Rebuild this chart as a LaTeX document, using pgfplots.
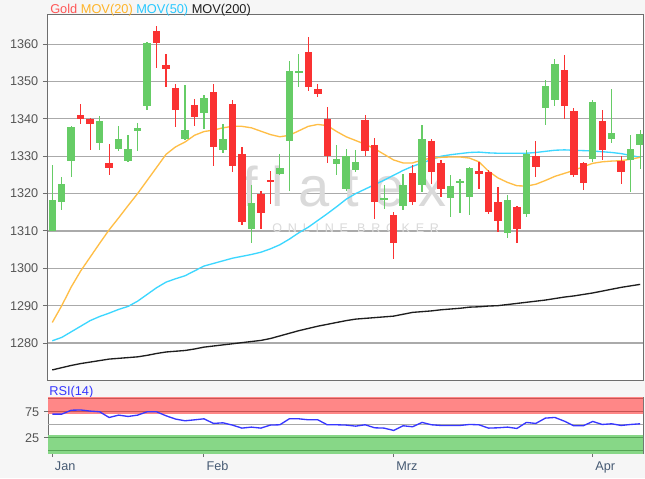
\documentclass[border=0pt]{standalone}
\usepackage{fontspec}
\setmainfont{Liberation Sans}
\usepackage{pgfplots}
\pgfplotsset{compat=1.18}
\usepackage{pgfplotstable}

\definecolor{bg}{RGB}{246,246,246}
\definecolor{candleup}{RGB}{102,204,102}
\definecolor{candledn}{RGB}{250,50,50}
\definecolor{mova}{RGB}{255,190,70}
\definecolor{movb}{RGB}{60,215,255}
\definecolor{movc}{RGB}{30,30,30}
\definecolor{legred}{RGB}{255,85,85}
\definecolor{legorange}{RGB}{255,180,40}
\definecolor{legcyan}{RGB}{40,200,255}
\definecolor{gridgray}{RGB}{170,170,170}
\definecolor{framegray}{RGB}{110,110,110}
\definecolor{ticklab}{RGB}{85,85,85}
\definecolor{xlab}{RGB}{70,90,115}
\definecolor{rsiblue}{RGB}{55,55,255}
\definecolor{rsired}{RGB}{255,135,135}
\definecolor{rsiredline}{RGB}{200,85,85}
\definecolor{rsigreen}{RGB}{135,215,135}
\definecolor{rsigreenline}{RGB}{85,165,85}
\definecolor{wm}{RGB}{218,218,218}

\pgfplotstableread{
i o h l c
0 1310 1327.6 1310 1318.2
1 1317.7 1324.4 1315.5 1322.5
2 1328.7 1338 1324.4 1337.8
5 1333.5 1340.7 1331.6 1339.4
7 1331.9 1338 1331.3 1334.6
8 1328.7 1335.6 1328.5 1332
9 1336.7 1339 1331.3 1337.5
10 1343.4 1360.5 1342.5 1360.4
14 1334.7 1349 1334.4 1337.1
16 1341.6 1346.3 1337.4 1345.7
18 1331.6 1338.7 1330.9 1334.5
21 1310.6 1322.2 1306.7 1317.6
24 1325.3 1330.7 1325.1 1326.8
25 1334.1 1355.5 1320.7 1352.9
26 1352.3 1357.5 1348.6 1352.9
30 1328 1332.9 1325.1 1329.3
31 1321.3 1332 1320.7 1330
32 1326.4 1331.6 1325.8 1328.5
35 1318.4 1322.4 1316 1318.8
37 1316.8 1325.3 1315.5 1322.4
39 1322.4 1338.3 1320.4 1334.7
42 1318.8 1325.1 1313.7 1322.1
43 1322.8 1324 1314.8 1323.4
44 1319.2 1327.1 1314.2 1326.8
48 1309.5 1319.7 1308.2 1318.2
50 1314.6 1331.6 1313.7 1330.7
52 1342.8 1350.3 1338.3 1348.7
53 1345 1356 1343.4 1354.8
57 1329.3 1345 1328.5 1344.5
59 1334.5 1348.1 1333.6 1336.2
61 1328.9 1335.6 1320.4 1332
62 1332.9 1337.1 1326.7 1335.9
}\upc

\pgfplotstableread{
i o h l c
3 1341.1 1343.9 1338.6 1340.1
4 1340 1340.3 1331.8 1338.6
6 1328.2 1333.4 1325.1 1326.8
11 1363.4 1364.8 1353.5 1360.4
12 1354.5 1357.5 1348.6 1353.3
13 1348.3 1349.3 1337.7 1342.5
15 1343.8 1345.4 1338.2 1340.5
17 1347.1 1349.3 1327.4 1332.5
19 1343.9 1345 1325.8 1327.4
20 1330.7 1332.5 1311.7 1312.4
22 1320 1320.6 1310.6 1314.9
23 1323.7 1326 1317.3 1323.2
27 1357.8 1362 1347.5 1348.6
28 1348.1 1349.3 1345.9 1346.6
29 1339.9 1343.2 1328.2 1330
33 1339.8 1341 1330 1331.4
34 1332.9 1335 1313.3 1317.7
36 1314.2 1315 1302.5 1306.7
38 1325.6 1327.6 1317 1317.7
40 1334 1334.5 1322.6 1325.8
41 1328.2 1329.1 1319.1 1321.3
45 1326 1328.5 1321.3 1325.3
46 1325.9 1326.2 1314.5 1315
47 1317.7 1321.8 1309.7 1312.6
49 1316.4 1316.6 1306.8 1310.4
51 1330 1334 1324.4 1327.1
54 1353.2 1357 1339.9 1343.4
55 1342 1342.8 1324.5 1325.1
56 1328.2 1328.5 1321 1322.9
58 1339.4 1342.3 1329.1 1331.6
60 1328.6 1330.2 1322.6 1325.8
}\dnc

\pgfplotstableread{
i m20 m50 m200 rsi
0 1285.5 1280.6 1272.8 70.5
1 1290 1281.5 1273.4 70.5
2 1295 1283 1274 78
3 1299.3 1284.5 1274.5 78.5
4 1303 1286 1274.9 76.3
5 1306.7 1287.1 1275.3 75
6 1310.3 1288 1275.7 64
7 1313.5 1289 1275.9 68.6
8 1316.8 1289.8 1276.1 66
9 1320 1291.2 1276.3 68.6
10 1323.5 1293 1276.7 75
11 1327 1294.8 1277.2 75
12 1330.5 1296.3 1277.6 67.3
13 1332.5 1297.2 1277.8 61
14 1333.8 1298 1278 57.7
15 1335.6 1299.3 1278.4 59.5
16 1336.6 1300.6 1278.9 61.5
17 1337 1301.3 1279.2 52.6
18 1337.6 1302 1279.5 53.8
19 1338 1302.7 1279.8 49.4
20 1338 1303.2 1280.1 43.6
21 1337.6 1303.7 1280.4 45.5
22 1336.7 1304.3 1280.7 43.6
23 1335.8 1305.2 1281.2 49.4
24 1335.2 1306.3 1281.9 50
25 1335.6 1307.8 1282.6 61.5
26 1336.8 1309.5 1283.3 61.5
27 1338 1311 1283.9 59.6
28 1338.5 1312.8 1284.5 59.6
29 1338.2 1314.6 1285 50
30 1336.6 1316.5 1285.5 50
31 1335.2 1318.5 1286 49.4
32 1334.2 1320 1286.4 47.4
33 1333.2 1321.2 1286.6 50
34 1332 1322.4 1286.8 44.2
35 1330.5 1323.6 1287 43.6
36 1329 1324.9 1287.2 39.1
37 1328.2 1326.2 1287.7 48.1
38 1328.2 1327.3 1288.2 46.2
39 1329 1328.2 1288.4 54.5
40 1329.5 1329.1 1288.6 50
41 1329.7 1330 1288.9 48.7
42 1329.8 1330.4 1289.1 48.7
43 1329.8 1330.7 1289.3 48.7
44 1329.5 1331 1289.6 50.6
45 1328.5 1331.1 1289.7 50
46 1326 1330.9 1289.9 43.6
47 1324.2 1330.8 1290 44.2
48 1323 1330.8 1290.3 45.5
49 1322.1 1330.8 1290.6 42.9
50 1322 1330.8 1290.9 54.5
51 1322.5 1331 1291.2 52.6
52 1323.5 1331.3 1291.5 62.8
53 1324.6 1331.6 1291.9 64.1
54 1325.4 1331.7 1292.3 57
55 1326.2 1331.6 1292.6 48.1
56 1327.2 1331.5 1293 48.1
57 1328.1 1331.4 1293.4 56.4
58 1328.5 1331.2 1293.9 50.6
59 1328.7 1331 1294.4 51.9
60 1328.8 1330.7 1294.9 48.7
61 1329.2 1330.2 1295.3 50.6
62 1329.7 1329.7 1295.7 51.9
}\ind

\pgfplotsset{
  candle/.style n args={2}{draw=none, mark=none, forget plot,
    error bars/.cd, y dir=both, y explicit, error mark=none,
    error bar style={draw=#1, line width=#2, line cap=butt}},
}

\begin{document}
\begin{tikzpicture}
\path[use as bounding box, fill=bg] (0,0) rectangle (483.75pt,-358.5pt);

\begin{axis}[
  at={(36pt,-11.25pt)}, anchor=north west, scale only axis,
  width=446.25pt, height=273.75pt,
  xmin=-0.45, xmax=62.3, ymin=1270.1, ymax=1367.8,
  ytick={1280,1290,...,1360}, xtick=\empty,
  ytick pos=left, tick align=outside, major tick length=3.75pt,
  ymajorgrids, grid style={draw=gridgray, line width=0.9pt},
  axis line style={draw=framegray, line width=0.75pt},
  ytick style={draw=framegray, line width=0.75pt},
  axis background/.style={fill=white},
  /pgf/number format/1000 sep={},
  /pgf/number format/assume math mode=true,
  yticklabel style={color=ticklab, font=\fontsize{9.5pt}{11pt}\selectfont},
]
\node[anchor=base, text=wm, font=\fontsize{42pt}{44pt}\selectfont\addfontfeature{LetterSpace=25}] at (axis cs:30.8,1316.5) {flatex};
\node[anchor=base, text=wm, font=\fontsize{9.4pt}{10pt}\selectfont\addfontfeature{LetterSpace=46}] at (axis cs:32,1309.6) {ONLINE BROKER};

\addplot[movc, line width=1pt, mark=none] table[x=i, y=m200] {\ind};
\addplot[movb, line width=1pt, mark=none] table[x=i, y=m50] {\ind};
\addplot[mova, line width=1pt, mark=none] table[x=i, y=m20] {\ind};

\addplot[candle={candleup}{0.95pt}]
  table[x=i, y expr={(\thisrow{h}+\thisrow{l})/2}, y error expr={(\thisrow{h}-\thisrow{l})/2}] {\upc};
\addplot[candle={candleup}{5.6pt}]
  table[x=i, y expr={(\thisrow{o}+\thisrow{c})/2}, y error expr={max(abs(\thisrow{c}-\thisrow{o})/2,0.3)}] {\upc};
\addplot[candle={candledn}{0.95pt}]
  table[x=i, y expr={(\thisrow{h}+\thisrow{l})/2}, y error expr={(\thisrow{h}-\thisrow{l})/2}] {\dnc};
\addplot[candle={candledn}{5.6pt}]
  table[x=i, y expr={(\thisrow{o}+\thisrow{c})/2}, y error expr={max(abs(\thisrow{c}-\thisrow{o})/2,0.3)}] {\dnc};
\end{axis}

\node[anchor=base west, inner sep=0pt, font=\fontsize{9.6pt}{11pt}\selectfont] at (37.5pt,-9.98pt)
  {\textcolor{legred}{Gold} \textcolor{legorange}{MOV(20)} \textcolor{legcyan}{MOV(50)} \textcolor{movc}{MOV(200)}};

\node[anchor=base west, inner sep=0pt, text=rsiblue, font=\fontsize{9.6pt}{11pt}\selectfont] at (36.75pt,-296.6pt) {RSI(14)};

\begin{axis}[
  at={(36pt,-298.3pt)}, anchor=north west, scale only axis,
  width=446.25pt, height=41.5pt,
  xmin=-0.45, xmax=62.3, ymin=-4.4, ymax=102,
  ytick={25,75}, xtick={0,16,36,57}, xticklabels={Jan,Feb,Mrz,Apr},
  xtick pos=bottom, ytick pos=left, tick align=outside, major tick length=3pt,
  axis line style={draw=framegray, line width=0.75pt},
  tick style={draw=framegray, line width=0.75pt},
  axis background/.style={fill=white},
  /pgf/number format/assume math mode=true,
  yticklabel style={color=ticklab, font=\fontsize{9.5pt}{11pt}\selectfont},
  xticklabel style={color=xlab, anchor=north west, xshift=-1.5pt, font=\fontsize{9.5pt}{11pt}\selectfont},
]
\addplot[draw=none, fill=rsired] coordinates {(-1,70) (63,70) (63,110) (-1,110)} -- cycle;
\addplot[draw=none, fill=rsigreen] coordinates {(-1,-10) (63,-10) (63,30) (-1,30)} -- cycle;
\addplot[rsiredline, line width=0.9pt] coordinates {(-1,75) (63,75)};
\addplot[rsiredline, line width=0.9pt] coordinates {(-1,100) (63,100)};
\addplot[rsigreenline, line width=0.9pt] coordinates {(-1,25) (63,25)};
\addplot[rsigreenline, line width=0.9pt] coordinates {(-1,0) (63,0)};
\addplot[gridgray, line width=0.8pt] coordinates {(-1,50) (63,50)};
\addplot[rsiblue, line width=1pt, mark=none] table[x=i, y=rsi] {\ind};
\end{axis}
\end{tikzpicture}
\end{document}
